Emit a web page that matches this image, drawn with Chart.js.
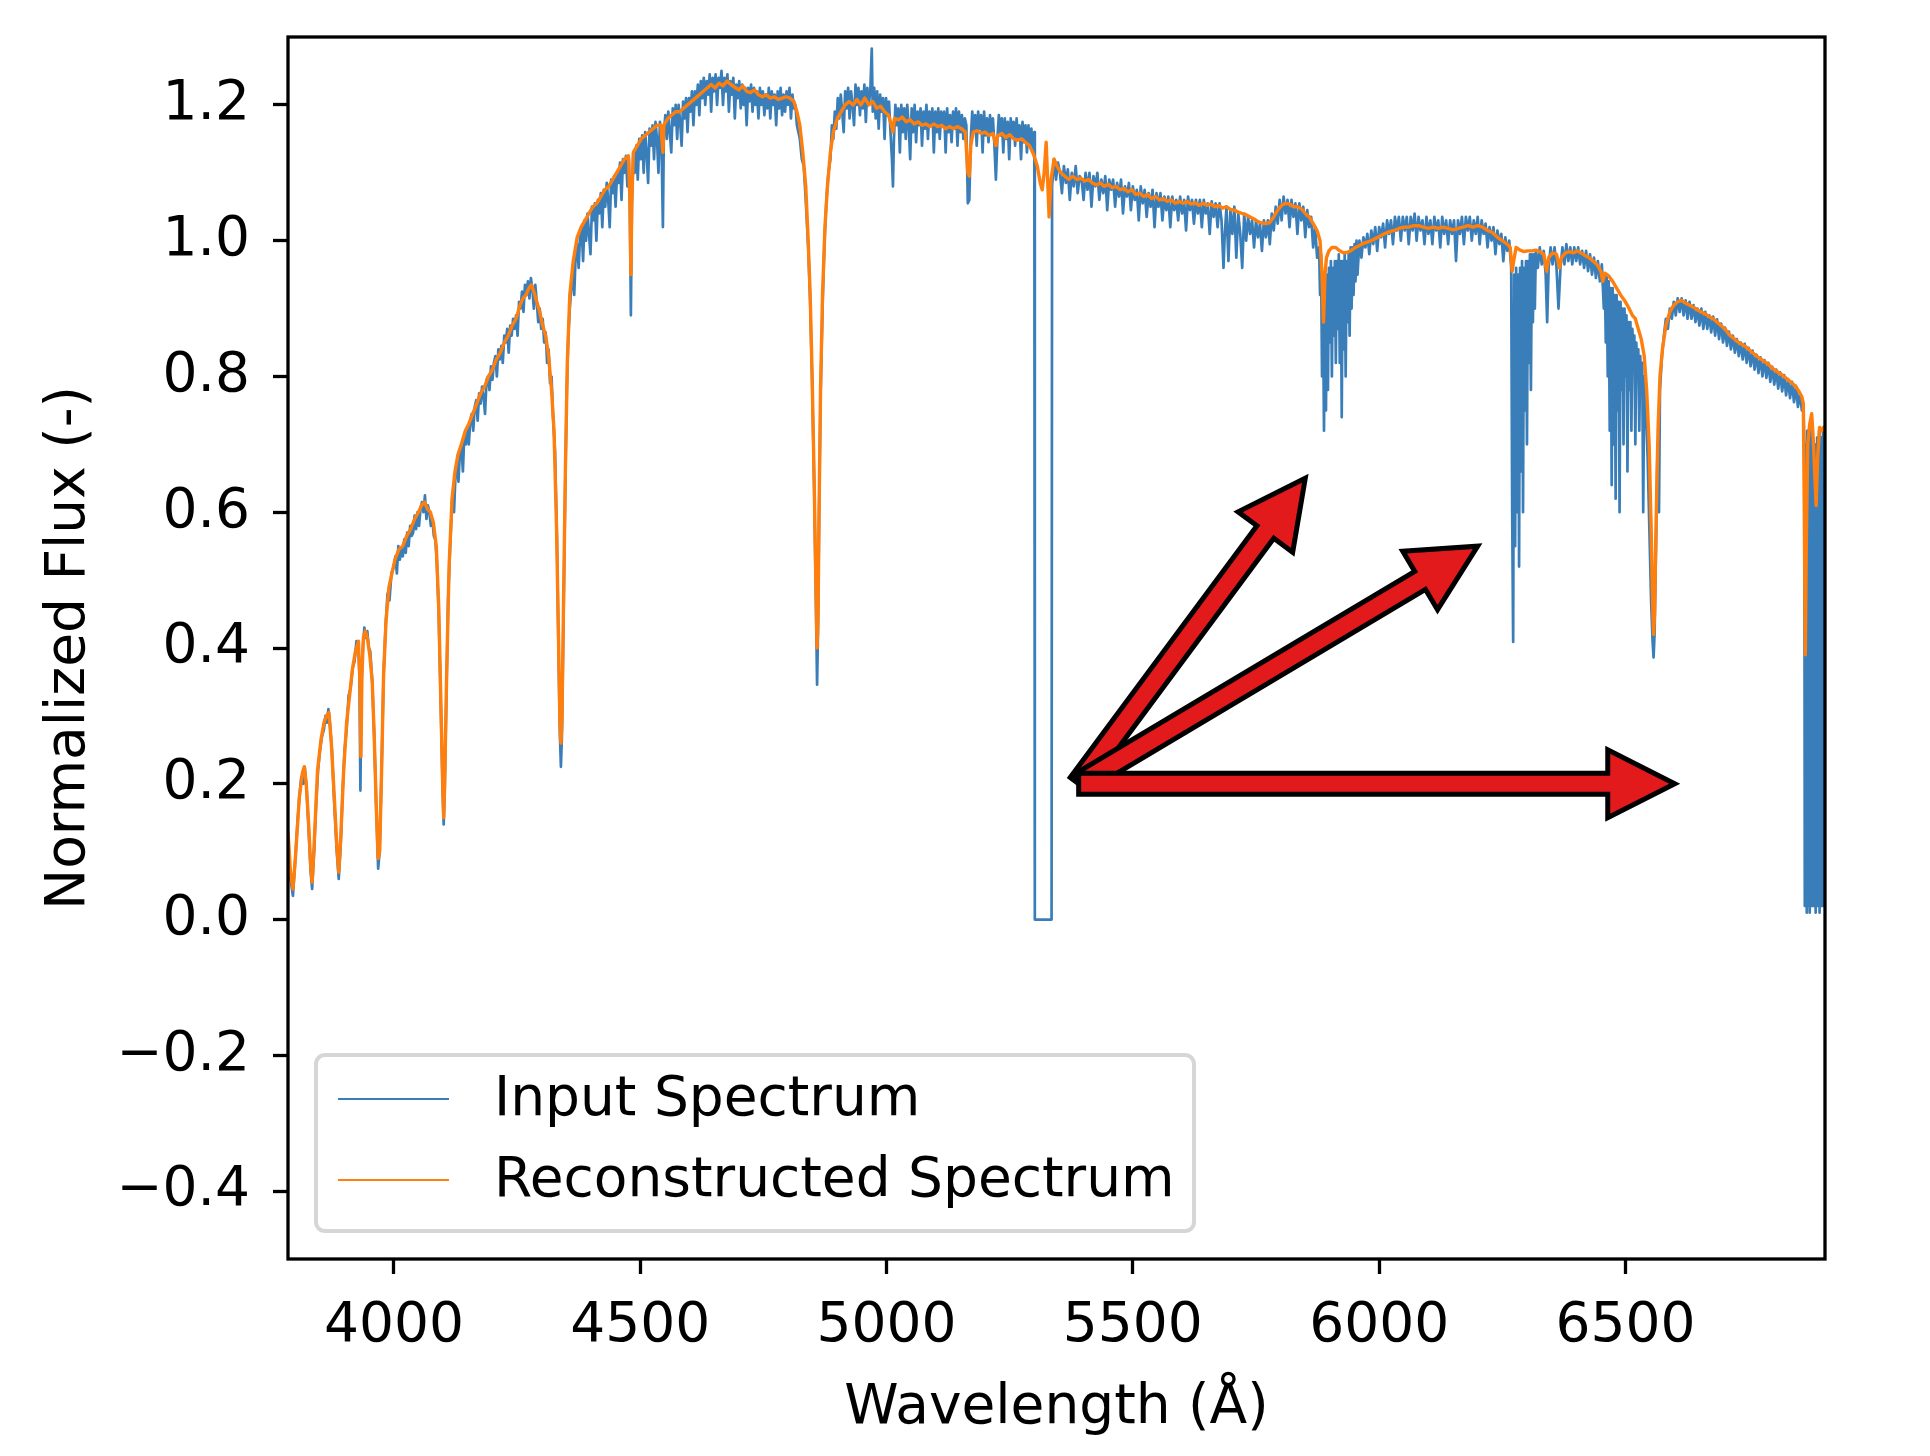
<!DOCTYPE html>
<html>
<head>
<meta charset="utf-8">
<script src="https://cdn.jsdelivr.net/npm/chart.js@4.4.0/dist/chart.umd.min.js"></script>
<style>
    html, body { margin: 0; padding: 0; background: #fff; }
    canvas { display: block; }
</style>
</head>
<body>
<canvas id="spectrum-chart" width="1930" height="1456"></canvas>
<script>
// Spectrum values: [wavelength (Å), normalized flux]
const inputSpectrum = [
    [3785,0.12],[3790,0.06],[3795,0.035],[3799,0.08],[3804,0.14],[3808,0.18],[3812,0.21],[3816,0.2],[3819,0.225],[3823,0.19],
    [3827,0.13],[3831,0.07],[3834,0.045],[3838,0.1],[3842,0.17],[3846,0.22],[3850,0.25],[3854,0.27],[3858,0.28],[3861,0.3],
    [3864,0.29],[3867,0.31],[3870,0.29],[3874,0.25],[3879,0.17],[3884,0.1],[3888,0.06],[3892,0.11],[3896,0.19],[3900,0.25],
    [3904,0.28],[3908,0.33],[3912,0.34],[3916,0.37],[3920,0.38],[3924,0.41],[3928,0.4],[3930,0.36],[3932,0.19],[3934,0.34],
    [3937,0.4],[3940,0.43],[3943,0.415],[3946,0.425],[3949,0.4],[3952,0.395],[3956,0.35],[3960,0.27],[3964,0.17],[3968,0.075],
    [3971,0.1],[3975,0.22],[3979,0.36],[3983,0.43],[3987,0.48],[3991,0.47],[3995,0.51],[4000,0.52],[4003,0.535],[4006,0.51],
    [4009,0.55],[4012,0.53],[4015,0.545],[4018,0.535],[4021,0.56],[4024,0.54],[4027,0.57],[4030,0.55],[4033,0.58],[4036,0.565],
    [4039,0.57],[4042,0.595],[4045,0.575],[4048,0.6],[4051,0.58],[4054,0.605],[4057,0.615],[4060,0.6],[4063,0.625],[4066,0.59],
    [4069,0.61],[4072,0.6],[4075,0.58],[4078,0.59],[4081,0.565],[4084,0.56],[4087,0.53],[4091,0.45],[4095,0.32],[4099,0.19],
    [4101,0.14],[4103,0.19],[4107,0.35],[4110,0.47],[4113,0.53],[4116,0.58],[4119,0.63],[4122,0.6],[4125,0.655],[4128,0.67],
    [4131,0.645],[4134,0.69],[4137,0.7],[4140,0.66],[4143,0.715],[4146,0.7],[4149,0.725],[4152,0.7],[4155,0.735],[4158,0.745],
    [4161,0.72],[4164,0.755],[4167,0.765],[4170,0.735],[4173,0.775],[4176,0.76],[4179,0.785],[4182,0.77],[4185,0.745],[4188,0.795],
    [4191,0.8],[4194,0.78],[4197,0.815],[4200,0.795],[4203,0.82],[4206,0.83],[4209,0.8],[4212,0.84],[4215,0.825],[4218,0.845],
    [4221,0.82],[4224,0.86],[4227,0.85],[4230,0.87],[4233,0.835],[4236,0.875],[4239,0.86],[4242,0.885],[4245,0.87],[4248,0.89],
    [4251,0.86],[4254,0.91],[4257,0.9],[4260,0.925],[4263,0.895],[4266,0.935],[4269,0.92],[4272,0.94],[4275,0.915],[4278,0.945],
    [4281,0.93],[4284,0.9],[4287,0.935],[4290,0.91],[4293,0.88],[4296,0.9],[4299,0.87],[4302,0.885],[4305,0.85],[4308,0.865],
    [4311,0.82],[4314,0.84],[4317,0.79],[4320,0.8],[4323,0.74],[4327,0.69],[4331,0.56],[4334,0.4],[4337,0.27],[4339,0.225],
    [4341,0.27],[4344,0.43],[4348,0.65],[4351,0.78],[4354,0.86],[4357,0.9],[4360,0.93],[4363,0.96],[4366,0.92],[4369,0.98],
    [4372,0.995],[4375,0.96],[4378,1.01],[4381,1.02],[4384,0.97],[4387,1.03],[4390,1.0],[4393,1.04],[4396,1.01],[4399,0.98],
    [4402,1.05],[4405,1.03],[4408,1.055],[4411,1.0],[4414,1.06],[4417,1.04],[4420,1.07],[4423,1.02],[4426,1.075],[4429,1.05],
    [4432,1.085],[4435,1.06],[4438,1.02],[4441,1.09],[4444,1.07],[4447,1.095],[4450,1.05],[4453,1.1],[4456,1.085],[4459,1.115],
    [4462,1.06],[4465,1.12],[4468,1.1],[4471,1.125],[4474,1.08],[4477,1.12],[4479,1.05],[4481,0.89],[4483,1.05],[4486,1.13],
    [4489,1.1],[4492,1.14],[4495,1.09],[4498,1.15],[4501,1.12],[4504,1.155],[4507,1.1],[4510,1.16],[4513,1.13],[4516,1.085],
    [4519,1.165],[4522,1.14],[4525,1.17],[4528,1.12],[4531,1.175],[4534,1.15],[4537,1.1],[4540,1.175],[4543,1.155],[4546,1.02],
    [4548,1.16],[4551,1.185],[4554,1.15],[4557,1.19],[4560,1.16],[4563,1.13],[4566,1.195],[4569,1.17],[4572,1.2],[4575,1.15],
    [4578,1.2],[4581,1.175],[4584,1.14],[4587,1.205],[4590,1.18],[4593,1.21],[4596,1.16],[4599,1.21],[4602,1.19],[4605,1.22],
    [4608,1.17],[4611,1.22],[4614,1.2],[4617,1.23],[4620,1.185],[4623,1.235],[4626,1.21],[4629,1.24],[4632,1.2],[4635,1.235],
    [4638,1.215],[4641,1.245],[4644,1.19],[4647,1.24],[4650,1.22],[4653,1.245],[4656,1.2],[4659,1.24],[4662,1.225],[4665,1.25],
    [4668,1.2],[4671,1.24],[4674,1.22],[4677,1.245],[4680,1.19],[4683,1.235],[4686,1.215],[4689,1.24],[4692,1.18],[4695,1.23],
    [4698,1.21],[4701,1.235],[4704,1.195],[4707,1.23],[4710,1.2],[4713,1.225],[4716,1.17],[4719,1.225],[4722,1.205],[4725,1.23],
    [4728,1.19],[4731,1.225],[4734,1.2],[4737,1.22],[4740,1.18],[4743,1.225],[4746,1.2],[4749,1.22],[4752,1.185],[4755,1.215],
    [4758,1.195],[4761,1.225],[4764,1.18],[4767,1.22],[4770,1.2],[4773,1.215],[4776,1.17],[4779,1.22],[4782,1.195],[4785,1.225],
    [4788,1.185],[4791,1.215],[4794,1.19],[4797,1.22],[4800,1.2],[4803,1.225],[4806,1.18],[4809,1.215],[4812,1.195],[4815,1.2],
    [4818,1.17],[4821,1.16],[4824,1.15],[4828,1.12],[4832,1.11],[4836,1.06],[4841,0.99],[4845,0.91],[4849,0.79],[4853,0.64],
    [4856,0.5],[4859,0.346],[4861,0.43],[4863,0.59],[4866,0.77],[4870,0.9],[4874,1.0],[4878,1.06],[4882,1.1],[4886,1.12],
    [4889,1.17],[4892,1.15],[4895,1.19],[4898,1.165],[4901,1.21],[4904,1.18],[4907,1.215],[4910,1.19],[4913,1.16],[4916,1.22],
    [4919,1.195],[4922,1.225],[4925,1.18],[4928,1.22],[4931,1.2],[4934,1.17],[4937,1.23],[4940,1.2],[4943,1.225],[4946,1.185],
    [4949,1.22],[4952,1.195],[4955,1.23],[4958,1.175],[4961,1.225],[4964,1.2],[4967,1.22],[4970,1.283],[4972,1.19],[4975,1.225],
    [4978,1.18],[4981,1.22],[4984,1.165],[4987,1.215],[4990,1.19],[4993,1.21],[4996,1.15],[4999,1.21],[5002,1.185],[5005,1.205],
    [5008,1.16],[5011,1.12],[5013,1.08],[5015,1.15],[5018,1.2],[5021,1.17],[5024,1.195],[5027,1.13],[5030,1.2],[5033,1.16],
    [5036,1.195],[5039,1.15],[5042,1.2],[5045,1.17],[5048,1.12],[5051,1.195],[5054,1.16],[5057,1.2],[5060,1.145],[5063,1.19],
    [5066,1.17],[5069,1.195],[5072,1.14],[5075,1.19],[5078,1.165],[5081,1.2],[5084,1.15],[5087,1.19],[5090,1.17],[5093,1.195],
    [5096,1.13],[5099,1.19],[5102,1.16],[5105,1.195],[5108,1.15],[5111,1.19],[5114,1.17],[5117,1.19],[5120,1.13],[5123,1.195],
    [5126,1.16],[5129,1.185],[5132,1.145],[5135,1.19],[5138,1.165],[5141,1.195],[5144,1.14],[5147,1.19],[5150,1.16],[5153,1.185],
    [5156,1.15],[5159,1.18],[5162,1.17],[5165,1.055],[5168,1.06],[5171,1.15],[5174,1.19],[5177,1.16],[5180,1.185],[5183,1.14],
    [5186,1.19],[5189,1.165],[5192,1.185],[5195,1.13],[5198,1.19],[5201,1.155],[5204,1.18],[5207,1.145],[5210,1.185],[5213,1.16],
    [5216,1.18],[5219,1.14],[5222,1.09],[5225,1.15],[5228,1.185],[5231,1.155],[5234,1.18],[5237,1.13],[5240,1.18],[5243,1.15],
    [5246,1.175],[5249,1.12],[5252,1.18],[5255,1.155],[5258,1.175],[5261,1.14],[5264,1.18],[5267,1.15],[5270,1.17],[5273,1.12],
    [5276,1.175],[5279,1.145],[5282,1.17],[5285,1.13],[5288,1.17],[5291,1.14],[5294,1.165],[5297,1.13],[5300,1.16],[5301,0],
    [5335,0],[5336,1.08],[5340,1.12],[5344,1.09],[5348,1.115],[5352,1.1],[5356,1.07],[5360,1.11],[5364,1.085],[5368,1.105],
    [5372,1.06],[5376,1.1],[5380,1.08],[5384,1.11],[5388,1.07],[5392,1.095],[5396,1.09],[5400,1.06],[5404,1.1],[5408,1.075],
    [5412,1.1],[5416,1.05],[5420,1.095],[5424,1.08],[5428,1.1],[5432,1.06],[5436,1.09],[5440,1.07],[5444,1.095],[5448,1.045],
    [5452,1.09],[5456,1.075],[5460,1.09],[5464,1.05],[5468,1.085],[5472,1.065],[5476,1.09],[5480,1.04],[5484,1.08],[5488,1.065],
    [5492,1.085],[5496,1.045],[5500,1.08],[5504,1.06],[5508,1.075],[5512,1.03],[5516,1.08],[5520,1.055],[5524,1.075],[5528,1.035],
    [5532,1.07],[5536,1.05],[5540,1.075],[5544,1.02],[5548,1.07],[5552,1.05],[5556,1.07],[5560,1.03],[5564,1.065],[5568,1.045],
    [5572,1.065],[5576,1.02],[5580,1.065],[5584,1.045],[5588,1.06],[5592,1.03],[5596,1.065],[5600,1.04],[5604,1.06],[5608,1.015],
    [5612,1.065],[5616,1.045],[5620,1.06],[5624,1.025],[5628,1.06],[5632,1.04],[5636,1.06],[5640,1.02],[5644,1.06],[5648,1.04],
    [5652,1.055],[5656,1.01],[5660,1.058],[5664,1.035],[5668,1.055],[5672,1.02],[5676,1.055],[5680,1.03],[5684,0.96],[5686,1.0],
    [5690,1.05],[5694,0.97],[5698,1.045],[5702,1.01],[5706,1.05],[5710,0.975],[5714,1.04],[5718,1.01],[5722,0.96],[5726,1.04],
    [5730,1.0],[5734,1.035],[5738,1.01],[5742,1.03],[5746,0.99],[5750,1.03],[5754,1.005],[5758,1.025],[5762,0.985],[5766,1.03],
    [5770,1.005],[5774,1.03],[5778,0.995],[5782,1.04],[5786,1.015],[5790,1.05],[5794,1.025],[5798,1.06],[5802,1.03],[5806,1.065],
    [5810,1.04],[5814,1.06],[5818,1.02],[5822,1.06],[5826,1.035],[5830,1.055],[5834,1.01],[5838,1.055],[5842,1.03],[5846,1.05],
    [5850,1.005],[5854,1.045],[5858,1.02],[5862,1.035],[5866,0.99],[5870,1.02],[5874,0.975],[5878,0.99],[5880,0.92],[5882,0.98],
    [5884,0.8],[5886,0.9],[5888,0.72],[5890,0.93],[5892,0.75],[5894,0.95],[5896,0.78],[5898,0.96],[5900,0.85],[5902,0.97],
    [5904,0.8],[5906,0.96],[5908,0.86],[5910,0.97],[5912,0.82],[5914,0.97],[5916,0.87],[5918,0.98],[5920,0.82],[5922,0.97],
    [5924,0.74],[5926,0.97],[5928,0.84],[5930,0.98],[5932,0.8],[5934,0.97],[5936,0.88],[5938,0.98],[5940,0.86],[5942,0.99],
    [5944,0.9],[5946,0.99],[5948,0.92],[5950,0.995],[5952,0.94],[5954,1.0],[5956,0.95],[5960,1.0],[5964,0.975],[5968,1.005],
    [5972,0.99],[5976,1.01],[5980,0.98],[5984,1.015],[5988,0.995],[5992,1.02],[5996,0.985],[6000,1.02],[6004,1.005],[6008,1.025],
    [6012,0.99],[6016,1.03],[6020,1.01],[6024,1.03],[6028,0.995],[6032,1.035],[6036,1.015],[6040,1.035],[6044,1.0],[6048,1.035],
    [6052,1.015],[6056,1.035],[6060,0.995],[6064,1.035],[6068,1.015],[6072,1.04],[6076,1.0],[6080,1.035],[6084,1.015],[6088,1.03],
    [6092,0.995],[6096,1.035],[6100,1.01],[6104,1.03],[6108,0.995],[6112,1.035],[6116,1.015],[6120,1.03],[6124,0.99],[6128,1.035],
    [6132,1.01],[6136,1.03],[6140,0.995],[6144,1.03],[6148,1.01],[6152,1.03],[6156,0.97],[6160,1.03],[6164,1.01],[6168,1.035],
    [6172,0.995],[6176,1.035],[6180,1.015],[6184,1.035],[6188,1.0],[6192,1.03],[6196,1.01],[6200,1.035],[6204,0.995],[6208,1.03],
    [6212,1.01],[6216,1.025],[6220,0.99],[6224,1.02],[6228,1.0],[6232,1.02],[6236,0.98],[6240,1.015],[6244,0.995],[6248,1.01],
    [6252,0.97],[6256,1.005],[6260,0.985],[6264,1.0],[6268,0.96],[6270,0.6],[6272,0.409],[6274,0.95],[6276,0.55],[6278,0.96],
    [6280,0.6],[6282,0.95],[6284,0.52],[6286,0.96],[6288,0.66],[6290,0.97],[6292,0.6],[6294,0.96],[6296,0.75],[6298,0.97],
    [6300,0.7],[6302,0.97],[6304,0.82],[6306,0.98],[6308,0.78],[6310,0.98],[6312,0.88],[6314,0.98],[6316,0.9],[6318,0.985],
    [6322,0.96],[6326,0.99],[6330,0.965],[6334,0.985],[6338,0.95],[6341,0.88],[6344,0.96],[6348,0.99],[6352,0.965],[6356,0.99],
    [6360,0.96],[6364,0.9],[6368,0.96],[6372,0.99],[6376,0.965],[6380,0.995],[6384,0.97],[6388,0.99],[6392,0.965],[6396,0.99],
    [6400,0.97],[6404,0.99],[6408,0.965],[6412,0.985],[6416,0.96],[6420,0.985],[6424,0.955],[6428,0.98],[6432,0.95],[6436,0.975],
    [6440,0.945],[6444,0.97],[6448,0.94],[6452,0.965],[6456,0.9],[6458,0.95],[6460,0.85],[6462,0.95],[6464,0.8],[6466,0.94],
    [6468,0.72],[6470,0.93],[6472,0.64],[6474,0.93],[6476,0.7],[6478,0.92],[6480,0.62],[6482,0.92],[6484,0.75],[6486,0.91],
    [6488,0.6],[6490,0.91],[6492,0.78],[6494,0.9],[6496,0.7],[6498,0.9],[6500,0.8],[6502,0.89],[6504,0.66],[6506,0.88],
    [6508,0.78],[6510,0.88],[6512,0.72],[6514,0.87],[6516,0.82],[6518,0.86],[6520,0.7],[6522,0.85],[6524,0.8],[6526,0.84],
    [6528,0.72],[6530,0.83],[6532,0.78],[6534,0.82],[6536,0.6],[6538,0.8],[6541,0.76],[6545,0.68],[6549,0.56],[6552,0.47],
    [6555,0.41],[6557,0.386],[6559,0.42],[6562,0.55],[6565,0.7],[6568,0.6],[6570,0.78],[6574,0.83],[6578,0.86],[6582,0.885],
    [6586,0.87],[6590,0.9],[6594,0.885],[6598,0.91],[6602,0.89],[6606,0.915],[6610,0.895],[6614,0.915],[6618,0.89],[6622,0.912],
    [6626,0.885],[6630,0.91],[6634,0.885],[6638,0.905],[6642,0.88],[6646,0.9],[6650,0.875],[6654,0.9],[6658,0.87],[6662,0.895],
    [6666,0.87],[6670,0.89],[6674,0.865],[6678,0.888],[6682,0.86],[6686,0.884],[6690,0.855],[6694,0.878],[6698,0.85],[6702,0.872],
    [6706,0.845],[6710,0.866],[6714,0.84],[6718,0.86],[6722,0.835],[6726,0.855],[6730,0.83],[6734,0.85],[6738,0.825],[6742,0.848],
    [6746,0.82],[6750,0.842],[6754,0.815],[6758,0.838],[6762,0.81],[6766,0.832],[6770,0.805],[6774,0.828],[6778,0.8],[6782,0.824],
    [6786,0.798],[6790,0.82],[6794,0.792],[6798,0.814],[6802,0.788],[6806,0.81],[6810,0.782],[6814,0.806],[6818,0.778],[6822,0.802],
    [6826,0.772],[6830,0.796],[6834,0.768],[6838,0.792],[6842,0.762],[6846,0.786],[6850,0.755],[6854,0.775],[6858,0.75],[6861,0.76],
    [6863,0.7],[6864,0.02],[6865,0.68],[6866,0.03],[6867,0.7],[6868,0.01],[6869,0.72],[6870,0.02],[6871,0.66],[6872,0.04],
    [6873,0.7],[6874,0.01],[6875,0.73],[6876,0.03],[6877,0.69],[6878,0.02],[6879,0.72],[6880,0.05],[6881,0.68],[6882,0.02],
    [6883,0.7],[6884,0.03],[6885,0.66],[6886,0.01],[6887,0.7],[6888,0.04],[6889,0.71],[6890,0.02],[6891,0.69],[6892,0.03],
    [6893,0.72],[6894,0.01],[6895,0.7],[6896,0.03],[6897,0.71],[6898,0.02],[6899,0.7],[6900,0.02],[6901,0.72],[6902,0.03],
    [6903,0.7],[6904,0.02],[6905,0.71]
];

const reconSpectrum = [
    [3785,0.13],[3790,0.07],[3795,0.045],[3800,0.09],[3808,0.18],[3814,0.215],[3818,0.225],[3822,0.2],[3827,0.14],[3831,0.08],
    [3834,0.055],[3838,0.11],[3845,0.22],[3852,0.265],[3858,0.29],[3863,0.3],[3868,0.305],[3873,0.26],[3879,0.18],[3884,0.11],
    [3888,0.07],[3892,0.12],[3898,0.22],[3904,0.29],[3910,0.33],[3916,0.37],[3922,0.395],[3928,0.41],[3931,0.35],[3933,0.24],
    [3935,0.36],[3938,0.415],[3942,0.425],[3946,0.415],[3951,0.39],[3956,0.35],[3960,0.27],[3964,0.17],[3968,0.09],[3971,0.1],
    [3975,0.22],[3979,0.36],[3984,0.44],[3990,0.49],[3996,0.51],[4002,0.53],[4010,0.545],[4018,0.55],[4026,0.565],[4034,0.575],
    [4042,0.59],[4050,0.6],[4056,0.61],[4062,0.615],[4068,0.605],[4074,0.6],[4080,0.585],[4086,0.55],[4091,0.46],[4095,0.33],
    [4099,0.2],[4101,0.15],[4103,0.2],[4107,0.36],[4112,0.52],[4118,0.62],[4124,0.66],[4130,0.685],[4137,0.7],[4145,0.72],
    [4152,0.73],[4160,0.745],[4168,0.76],[4176,0.775],[4184,0.785],[4192,0.8],[4200,0.81],[4208,0.825],[4216,0.835],[4224,0.85],
    [4232,0.86],[4240,0.875],[4248,0.885],[4256,0.905],[4262,0.915],[4268,0.92],[4274,0.93],[4279,0.935],[4284,0.925],[4290,0.91],
    [4296,0.895],[4302,0.875],[4308,0.86],[4314,0.83],[4320,0.78],[4325,0.72],[4330,0.58],[4334,0.42],[4337,0.29],[4339,0.26],
    [4341,0.29],[4344,0.45],[4348,0.66],[4352,0.82],[4357,0.92],[4364,0.97],[4372,1.005],[4380,1.02],[4388,1.03],[4396,1.04],
    [4404,1.05],[4412,1.055],[4420,1.065],[4428,1.075],[4436,1.08],[4444,1.09],[4452,1.1],[4460,1.11],[4468,1.12],[4476,1.125],
    [4479,1.06],[4481,0.95],[4483,1.06],[4486,1.13],[4494,1.14],[4502,1.15],[4510,1.155],[4518,1.16],[4526,1.165],[4534,1.17],
    [4542,1.17],[4546,1.13],[4548,1.17],[4556,1.18],[4564,1.185],[4572,1.19],[4580,1.19],[4588,1.195],[4596,1.2],[4604,1.205],
    [4612,1.21],[4620,1.215],[4628,1.22],[4636,1.225],[4644,1.23],[4652,1.225],[4660,1.232],[4668,1.228],[4676,1.235],[4684,1.23],
    [4692,1.226],[4700,1.222],[4708,1.228],[4716,1.22],[4724,1.218],[4732,1.222],[4740,1.215],[4748,1.212],[4756,1.215],[4764,1.21],
    [4772,1.212],[4780,1.208],[4788,1.21],[4796,1.212],[4804,1.21],[4812,1.205],[4818,1.19],[4824,1.17],[4830,1.13],[4836,1.08],
    [4841,1.0],[4845,0.92],[4849,0.8],[4853,0.65],[4856,0.52],[4859,0.4],[4861,0.45],[4863,0.6],[4866,0.78],[4870,0.92],
    [4875,1.02],[4880,1.08],[4886,1.13],[4892,1.16],[4900,1.18],[4908,1.19],[4916,1.2],[4924,1.205],[4932,1.2],[4940,1.208],
    [4948,1.2],[4956,1.21],[4964,1.2],[4972,1.205],[4980,1.195],[4988,1.198],[4996,1.19],[5004,1.185],[5010,1.17],[5013,1.16],
    [5016,1.18],[5024,1.178],[5032,1.182],[5040,1.175],[5048,1.178],[5056,1.172],[5064,1.175],[5072,1.17],[5080,1.172],[5088,1.168],
    [5096,1.172],[5104,1.168],[5112,1.17],[5120,1.165],[5128,1.168],[5136,1.165],[5144,1.168],[5152,1.165],[5160,1.16],[5165,1.1],
    [5168,1.095],[5171,1.14],[5176,1.16],[5184,1.162],[5192,1.158],[5200,1.16],[5208,1.155],[5216,1.158],[5222,1.14],[5226,1.155],
    [5234,1.158],[5242,1.152],[5250,1.156],[5258,1.15],[5266,1.148],[5274,1.15],[5282,1.145],[5290,1.14],[5298,1.128],[5306,1.11],
    [5312,1.085],[5316,1.075],[5320,1.1],[5324,1.145],[5327,1.09],[5330,1.035],[5334,1.09],[5340,1.12],[5346,1.11],[5354,1.1],
    [5362,1.095],[5370,1.09],[5378,1.095],[5386,1.09],[5394,1.092],[5402,1.088],[5410,1.09],[5418,1.085],[5426,1.082],[5434,1.085],
    [5442,1.08],[5450,1.083],[5458,1.078],[5466,1.08],[5474,1.075],[5482,1.077],[5490,1.072],[5498,1.075],[5506,1.068],[5514,1.07],
    [5522,1.065],[5530,1.068],[5538,1.062],[5546,1.065],[5554,1.06],[5562,1.062],[5570,1.058],[5578,1.06],[5586,1.055],[5594,1.058],
    [5602,1.055],[5610,1.058],[5618,1.054],[5626,1.056],[5634,1.052],[5642,1.055],[5650,1.052],[5658,1.054],[5666,1.05],[5674,1.052],
    [5682,1.048],[5690,1.05],[5698,1.046],[5706,1.045],[5714,1.042],[5722,1.04],[5730,1.038],[5738,1.035],[5746,1.032],[5754,1.028],
    [5762,1.026],[5770,1.025],[5778,1.027],[5786,1.035],[5794,1.045],[5802,1.052],[5810,1.055],[5818,1.054],[5826,1.05],[5834,1.05],
    [5842,1.047],[5850,1.04],[5858,1.035],[5866,1.025],[5874,1.015],[5880,1.0],[5884,0.95],[5887,0.88],[5890,0.95],[5893,0.975],
    [5898,0.985],[5904,0.99],[5912,0.99],[5920,0.985],[5928,0.982],[5936,0.983],[5944,0.986],[5952,0.99],[5960,0.993],[5968,0.996],
    [5976,0.998],[5984,1.0],[5992,1.003],[6000,1.006],[6010,1.01],[6020,1.013],[6030,1.015],[6040,1.018],[6050,1.02],[6060,1.02],
    [6070,1.022],[6080,1.022],[6090,1.02],[6100,1.018],[6110,1.02],[6120,1.018],[6130,1.02],[6140,1.018],[6150,1.016],[6160,1.018],
    [6170,1.02],[6180,1.022],[6190,1.02],[6200,1.022],[6210,1.02],[6220,1.015],[6230,1.012],[6240,1.005],[6250,1.0],[6260,0.995],
    [6266,0.99],[6270,0.955],[6273,0.97],[6278,0.99],[6286,0.986],[6294,0.984],[6302,0.985],[6310,0.985],[6318,0.986],[6326,0.984],
    [6334,0.98],[6340,0.955],[6344,0.975],[6352,0.982],[6360,0.98],[6366,0.96],[6370,0.975],[6378,0.982],[6386,0.984],[6394,0.982],
    [6402,0.985],[6410,0.982],[6418,0.978],[6426,0.975],[6434,0.97],[6442,0.965],[6450,0.955],[6454,0.94],[6458,0.952],[6466,0.948],
    [6474,0.94],[6482,0.93],[6490,0.92],[6498,0.912],[6506,0.902],[6514,0.89],[6520,0.885],[6526,0.87],[6532,0.855],[6538,0.83],
    [6543,0.78],[6548,0.7],[6552,0.58],[6555,0.47],[6557,0.42],[6559,0.45],[6562,0.58],[6566,0.72],[6570,0.8],[6575,0.84],
    [6582,0.875],[6590,0.895],[6598,0.905],[6606,0.91],[6614,0.912],[6622,0.908],[6630,0.905],[6638,0.902],[6646,0.898],[6654,0.895],
    [6662,0.892],[6670,0.888],[6678,0.885],[6686,0.88],[6694,0.875],[6702,0.87],[6710,0.862],[6718,0.857],[6726,0.852],[6734,0.848],
    [6742,0.845],[6750,0.84],[6758,0.835],[6766,0.83],[6774,0.826],[6782,0.822],[6790,0.818],[6798,0.812],[6806,0.808],[6814,0.804],
    [6822,0.8],[6830,0.795],[6838,0.79],[6846,0.785],[6852,0.778],[6858,0.77],[6861,0.76],[6863,0.6],[6865,0.39],[6867,0.55],
    [6870,0.7],[6874,0.73],[6878,0.745],[6881,0.71],[6884,0.66],[6887,0.61],[6890,0.68],[6894,0.725],[6898,0.72],[6902,0.725],
    [6905,0.72]
];

const seriesNames = ['Input Spectrum', 'Reconstructed Spectrum'];
const xTicks = [4000, 4500, 5000, 5500, 6000, 6500];
const yTicks = [-0.4, -0.2, 0.0, 0.2, 0.4, 0.6, 0.8, 1.0, 1.2];
const xRange = [3785, 6905];
const yRange = [-0.5, 1.3];

// Annotation arrows (data coordinates): common origin, three tips
const arrowOrigin = [5390, 0.2];
const arrowTips = [[5850, 0.65], [6200, 0.55], [6600, 0.2]];

const BLUE = 'rgb(58,126,185)';
const ORANGE = '#ff7f0e';
const FONT_FAMILY = '"DejaVu Sans", sans-serif';
const FONT_SIZE = 55;

function toPoints(pairs) {
    return pairs.map(p => ({ x: p[0], y: p[1] }));
}

function formatY(v) {
    return v.toFixed(1).replace('-', '\u2212');
}

// Draw one filled arrow in pixel space, shaft and head sized like the original
function drawArrow(ctx, x0, y0, x1, y1) {
    const shaft = 21, headW = 68, headL = 67;
    const dx = x1 - x0, dy = y1 - y0;
    const len = Math.hypot(dx, dy);
    const ux = dx / len, uy = dy / len;
    const px = -uy, py = ux;
    const bx = x1 - ux * headL, by = y1 - uy * headL;
    const pts = [
        [x0 + px * shaft / 2, y0 + py * shaft / 2],
        [bx + px * shaft / 2, by + py * shaft / 2],
        [bx + px * headW / 2, by + py * headW / 2],
        [x1, y1],
        [bx - px * headW / 2, by - py * headW / 2],
        [bx - px * shaft / 2, by - py * shaft / 2],
        [x0 - px * shaft / 2, y0 - py * shaft / 2]
    ];
    ctx.beginPath();
    pts.forEach((p, i) => i ? ctx.lineTo(p[0], p[1]) : ctx.moveTo(p[0], p[1]));
    ctx.closePath();
    ctx.fillStyle = '#e31a1c';
    ctx.fill();
    ctx.lineWidth = 5;
    ctx.lineJoin = 'miter';
    ctx.miterLimit = 10;
    ctx.strokeStyle = '#000';
    ctx.stroke();
}

const overlayPlugin = {
    id: 'overlay',
    afterDatasetsDraw(chart) {
        const { ctx, chartArea: a, scales: { x, y } } = chart;
        ctx.save();

        // Arrows
        const ox = x.getPixelForValue(arrowOrigin[0]);
        const oy = y.getPixelForValue(arrowOrigin[1]);
        arrowTips.forEach(t => {
            drawArrow(ctx, ox, oy, x.getPixelForValue(t[0]), y.getPixelForValue(t[1]));
        });

        // Frame (all four spines)
        ctx.lineWidth = 3.3;
        ctx.strokeStyle = '#000';
        ctx.lineJoin = 'miter';
        ctx.strokeRect(a.left, a.top, a.right - a.left, a.bottom - a.top);

        // Legend box, lower left
        const lx = a.left + 28, ly = a.bottom - 204, lw = 878, lh = 176, r = 9;
        ctx.beginPath();
        ctx.moveTo(lx + r, ly);
        ctx.arcTo(lx + lw, ly, lx + lw, ly + lh, r);
        ctx.arcTo(lx + lw, ly + lh, lx, ly + lh, r);
        ctx.arcTo(lx, ly + lh, lx, ly, r);
        ctx.arcTo(lx, ly, lx + lw, ly, r);
        ctx.closePath();
        ctx.fillStyle = 'rgba(255,255,255,0.8)';
        ctx.fill();
        ctx.lineWidth = 4;
        ctx.strokeStyle = '#d6d6d6';
        ctx.stroke();

        const colors = [BLUE, ORANGE];
        ctx.font = FONT_SIZE + 'px ' + FONT_FAMILY;
        ctx.textBaseline = 'middle';
        ctx.textAlign = 'left';
        seriesNames.forEach((name, i) => {
            const rowY = ly + 44 + i * 81;
            ctx.beginPath();
            ctx.moveTo(lx + 22, rowY);
            ctx.lineTo(lx + 133, rowY);
            ctx.lineWidth = 2.2;
            ctx.strokeStyle = colors[i];
            ctx.stroke();
            ctx.fillStyle = '#000';
            ctx.fillText(name, lx + 178, rowY + 2);
        });
        ctx.restore();
    }
};

const tickFont = { family: FONT_FAMILY, size: FONT_SIZE };

new Chart(document.getElementById('spectrum-chart').getContext('2d'), {
    type: 'line',
    data: {
        datasets: [
            {
                label: seriesNames[0],
                data: toPoints(inputSpectrum),
                borderColor: BLUE,
                borderWidth: 2.7,
                pointRadius: 0,
                tension: 0,
                borderJoinStyle: 'round',
                order: 1
            },
            {
                label: seriesNames[1],
                data: toPoints(reconSpectrum),
                borderColor: ORANGE,
                borderWidth: 3.4,
                pointRadius: 0,
                tension: 0,
                borderJoinStyle: 'round',
                order: 0
            }
        ]
    },
    options: {
        responsive: false,
        animation: false,
        events: [],
        layout: { padding: { top: 37, right: 105, left: 0, bottom: 0 } },
        plugins: {
            legend: { display: false },
            tooltip: { enabled: false }
        },
        scales: {
            x: {
                type: 'linear',
                min: xRange[0],
                max: xRange[1],
                afterFit(scale) {
                    scale.height = 197;
                    scale.paddingLeft = 0;
                    scale.paddingRight = 0;
                },
                afterBuildTicks(scale) { scale.ticks = xTicks.map(v => ({ value: v })); },
                border: { display: false },
                grid: {
                    drawOnChartArea: false,
                    drawTicks: true,
                    tickLength: 15,
                    tickWidth: 3.3,
                    tickColor: '#000'
                },
                ticks: {
                    color: '#000',
                    font: tickFont,
                    padding: 20,
                    maxRotation: 0,
                    callback: v => String(v)
                },
                title: {
                    display: true,
                    text: 'Wavelength (Å)',
                    color: '#000',
                    font: tickFont,
                    padding: { top: 0, bottom: 14 }
                }
            },
            y: {
                type: 'linear',
                min: yRange[0],
                max: yRange[1],
                afterFit(scale) {
                    scale.width = 288;
                    scale.paddingTop = 0;
                    scale.paddingBottom = 0;
                },
                afterBuildTicks(scale) { scale.ticks = yTicks.map(v => ({ value: v })); },
                border: { display: false },
                grid: {
                    drawOnChartArea: false,
                    drawTicks: true,
                    tickLength: 15,
                    tickWidth: 3.3,
                    tickColor: '#000'
                },
                ticks: {
                    color: '#000',
                    font: tickFont,
                    padding: 23,
                    callback: v => formatY(v)
                },
                title: {
                    display: true,
                    text: 'Normalized Flux (-)',
                    color: '#000',
                    font: tickFont,
                    padding: { top: 37, bottom: 0 }
                }
            }
        }
    },
    plugins: [overlayPlugin]
});
</script>
</body>
</html>
